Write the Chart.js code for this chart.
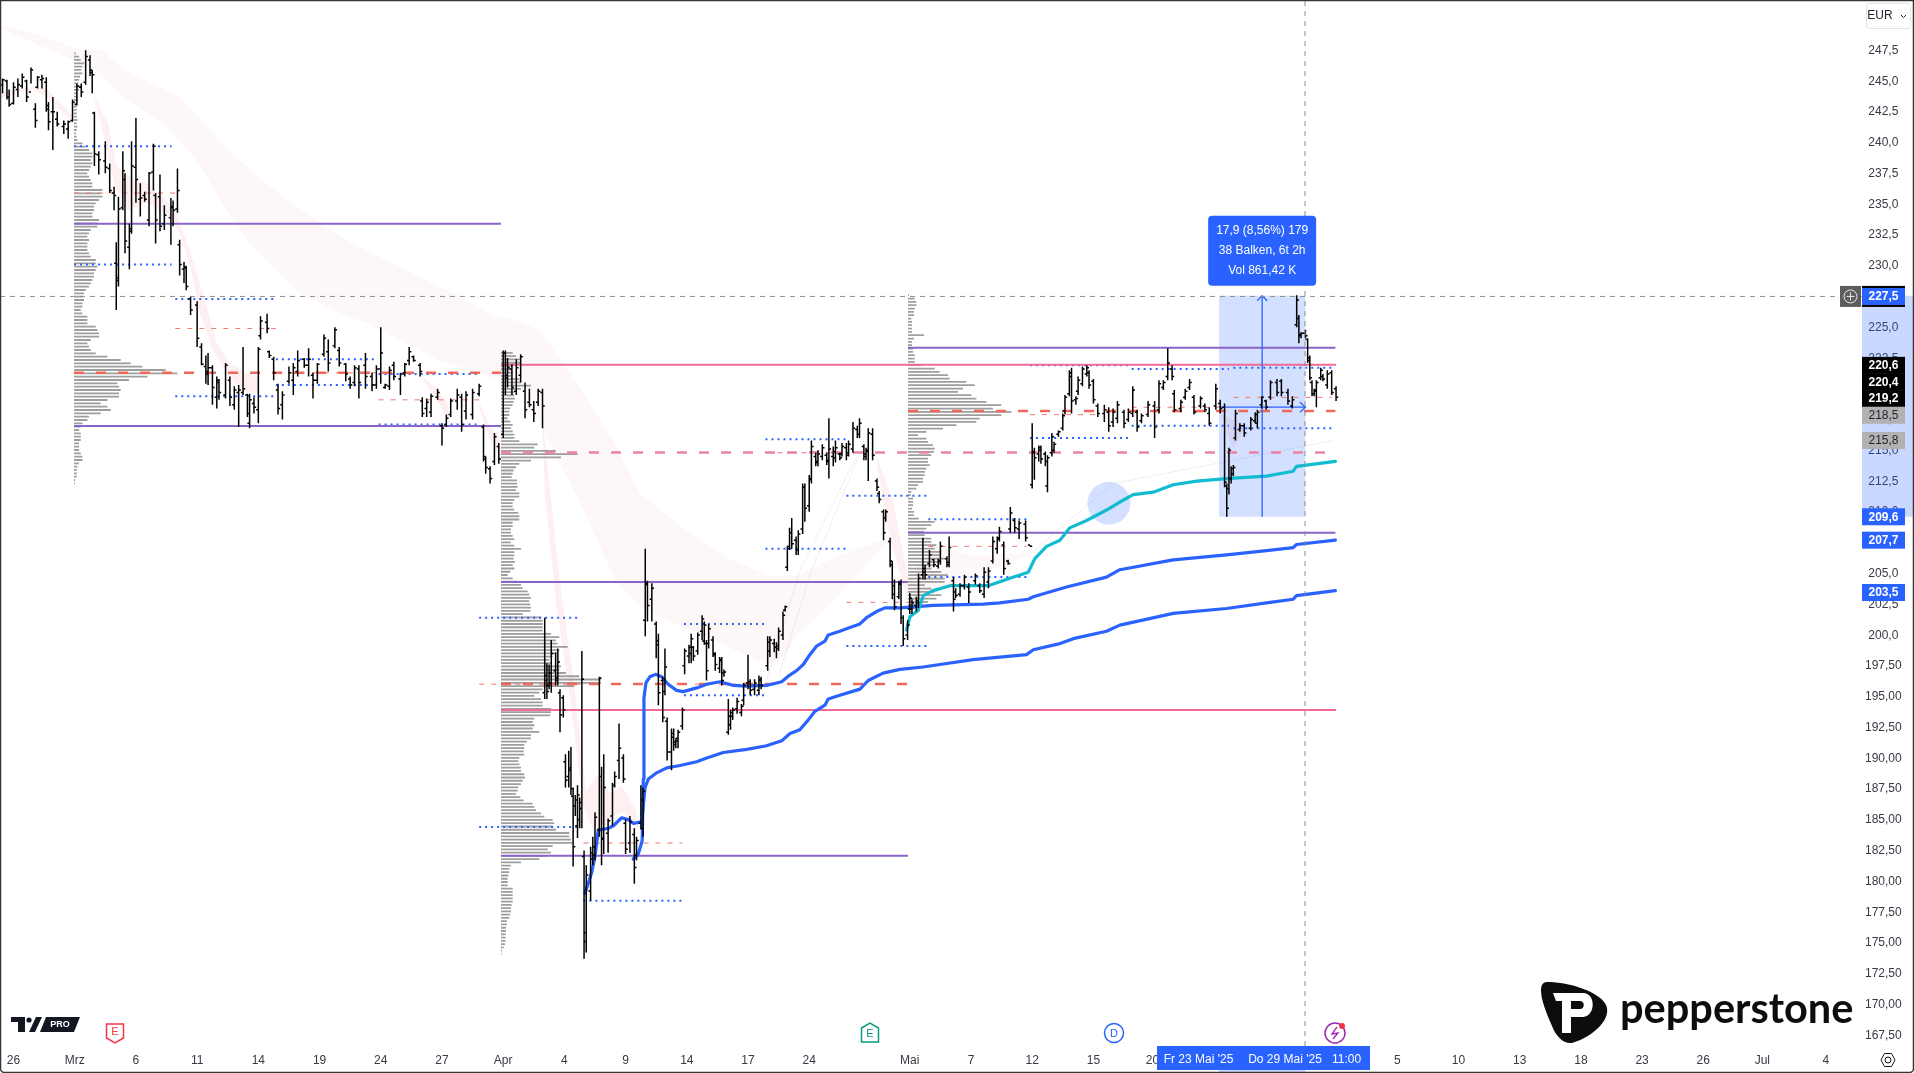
<!DOCTYPE html>
<html>
<head>
<meta charset="utf-8">
<title>Chart</title>
<script src="https://cdn.jsdelivr.net/npm/chart.js@4/dist/chart.umd.min.js"></script>
<style>
html,body{margin:0;padding:0;background:#fff;overflow:hidden}
canvas{display:block}
</style>
</head>
<body>
<canvas id="mycanvas" width="1914" height="1073"></canvas>
<script>
// axis
var tickBars = [0,28,56,84,112,140,168,196,224,252,280,308,336,364,410,438,466,494,521,633,661,689,717,745,773,800,829];
var tickNames = ['26','Mrz','6','11','14','19','24','27','Apr','4','9','14','17','24','Mai','7','12','15','20','5','10','13','18','23','26','Jul','4'];
var yTicks = [247.5,245,242.5,240,237.5,235,232.5,230,227.5,225,222.5,220,217.5,215,212.5,210,207.5,205,202.5,200,197.5,195,192.5,190,187.5,185,182.5,180,177.5,175,172.5,170,167.5];

// price bars
var barNo = [
-5,-3,-2,0,2,4,6,8,10,11,
13,15,16,18,20,23,25,27,29,31,
33,35,36,37,39,42,44,46,47,48,
50,51,53,54,56,58,60,62,64,65,
67,69,72,73,75,76,78,79,81,84,
86,88,89,91,93,94,97,99,101,103,
105,107,108,110,112,113,116,117,119,121,
123,126,128,130,133,135,137,139,142,144,
147,149,152,154,156,158,161,164,166,168,
170,172,174,177,179,181,183,186,187,189,
191,194,196,198,200,203,205,207,210,213,
215,216,218,220,222,224,225,226,228,230,
232,234,236,238,240,242,243,244,245,246,
248,249,250,251.5,252.5,254,255,256,257,258,
259,260,261,262,264,265,266,268,269,270,
272,274,275,277,279,280,282,284,285,287,
288,289,290,292,294,295,297,298,299,301,
302,303,304,306,307,309,310,311,313,315,
316,317,318,320,321,323,324,325,327,328,
329,331,333,334,336,337,339,341,342,345,
346,348,349,350,352,353,354,355,356,358,
359,361,362,364,365,367,368,370,372,373,
375,376,378,379,381,382,384,386,387,389,
390,391,393,395,396,398,399,401,402,403,
405,406,407,409,410,411,413,414,416,417,
419,421,423,424,427,428,430,431,433,435,
437,440,442,444,446,448,450,451,453,455,
456,458,460,463,465,466,467,469,470,472,
473,475,476,478,480,481,483,484,486,487,
489,491,492,494,496,499,501,503,505,508,
510,512,514,516,519,522,524,526,528,530,
531,534,536,538,540,543,545,547,550,552,
554,555,556,557,558,559,561,563,566,568,
569,571,573,575,578,580,583,585,587,588,
589,591,592,593,594,595,596,598,599,601,
603,605];
var highs = [
245.1,245.0,244.2,244.8,245.1,245.5,245.0,246.0,243.1,245.3,
245.4,245.2,243.2,243.6,242.4,241.7,241.7,243.4,244.7,244.7,
247.4,247.0,245.8,242.4,239.2,240.0,238.2,236.3,231.8,235.5,
239.2,237.4,233.3,240.0,241.9,236.6,235.9,237.5,239.8,235.8,
237.3,234.8,235.4,235.2,237.8,232.0,230.2,229.9,227.4,227.0,
223.6,222.6,222.8,221.8,220.9,220.7,222.0,220.9,220.1,220.2,
223.3,219.5,219.5,219.2,223.3,225.8,226.0,223.0,222.5,220.3,
219.7,221.7,222.0,223.0,222.4,223.2,221.2,222.0,224.3,223.9,
224.9,223.3,222.0,220.9,221.8,221.8,222.8,221.2,221.8,224.9,
220.3,221.7,222.1,221.2,222.0,223.3,222.6,222.0,219.2,219.1,
219.5,219.9,217.1,217.8,219.1,219.9,219.5,219.7,219.9,220.3,
217.0,214.4,213.6,216.3,215.5,223.0,223.0,222.4,221.9,222.3,
222.7,220.4,219.9,218.9,219.9,219.9,201.3,197.6,197.5,199.5,
198.5,198.8,195.5,195.0,190.2,190.5,190.8,187.5,186.9,187.7,
186.7,198.6,182.4,181.2,182.7,183.5,185.5,196.5,189.2,190.2,
185.0,187.9,188.8,192.7,190.2,184.9,185.2,184.2,183.5,187.7,
187.5,206.9,204.3,204.1,201.0,200.0,196.5,198.8,193.2,192.3,
192.3,191.5,192.2,194.0,198.8,199.1,200.0,199.0,200.1,201.5,
201.0,199.5,200.8,199.8,198.5,198.1,198.1,197.1,194.7,193.8,
194.0,194.8,194.3,196.0,198.3,196.3,196.3,196.6,196.5,199.8,
199.8,199.6,199.3,200.5,201.8,202.3,207.1,208.6,209.4,207.9,
208.4,212.2,212.2,212.9,215.7,214.7,214.9,215.4,214.7,217.5,
215.2,215.7,214.7,215.5,215.5,215.7,217.2,216.9,217.5,215.4,
215.1,216.7,216.7,212.6,211.6,210.1,210.1,207.8,205.9,204.4,
204.3,204.4,201.5,201.1,203.3,202.8,203.0,204.9,207.8,205.6,
206.8,206.1,206.1,207.5,206.3,207.9,204.6,203.7,204.1,204.8,
204.1,204.9,204.1,205.4,205.4,207.9,207.9,208.7,207.5,206.0,
210.3,209.4,209.2,209.2,207.2,217.1,215.1,215.3,215.3,214.8,
214.5,216.3,215.6,216.5,217.9,219.4,221.4,221.6,219.3,220.9,
221.7,221.8,221.4,220.7,218.7,218.6,218.4,218.3,218.9,218.2,
218.3,220.1,218.2,217.9,218.9,218.9,220.6,220.6,223.2,221.8,
219.8,219.0,219.9,220.7,219.4,219.3,218.7,218.4,220.3,219.0,
218.7,212.2,215.1,213.6,213.7,218.2,217.1,217.1,217.6,218.0,
218.2,219.3,219.0,220.6,220.7,220.7,219.9,219.3,227.5,225.9,
224.5,224.7,224.0,222.6,220.6,219.9,220.6,221.6,221.1,221.4,
221.4,220.1];
var lows = [
243.9,243.4,242.8,243.0,243.6,244.3,243.2,244.7,241.1,244.3,
244.3,242.4,240.9,239.3,241.2,240.6,240.2,241.6,242.9,243.6,
244.6,245.3,243.9,238.0,237.3,237.4,235.8,234.4,226.3,228.2,
234.4,230.9,229.6,232.5,235.0,233.9,235.1,233.1,236.0,231.7,
232.7,232.8,231.6,233.1,234.2,229.1,228.5,227.9,225.9,223.3,
221.8,220.3,220.2,218.6,218.3,219.0,219.1,218.5,218.2,216.8,
219.4,217.6,216.7,217.9,217.1,223.9,224.4,222.4,220.6,217.8,
217.4,220.3,219.4,220.9,221.6,220.9,219.1,220.3,222.5,221.3,
223.2,221.7,220.5,219.9,220.1,219.1,219.9,219.7,219.9,220.3,
219.9,219.8,220.6,219.4,220.9,221.8,222.1,220.9,217.6,217.6,
217.6,219.0,215.3,216.8,217.6,218.2,216.4,217.4,217.4,219.3,
214.0,213.0,212.2,213.7,213.8,215.9,219.4,220.0,219.4,219.4,
220.4,217.5,218.4,217.2,218.5,216.7,194.7,194.7,195.5,195.2,
195.8,195.8,192.0,193.2,187.5,187.5,186.9,181.1,185.2,183.4,
184.2,184.2,173.6,174.1,178.3,181.2,181.6,183.5,181.2,182.1,
182.2,184.4,187.5,188.2,187.9,182.1,182.2,179.7,181.6,184.1,
183.5,199.8,201.0,201.0,198.0,194.2,192.8,195.0,189.7,188.9,
190.5,190.7,190.7,192.2,196.7,197.6,197.6,197.8,198.3,199.5,
199.1,196.2,198.8,198.1,197.0,196.8,195.8,196.5,191.8,192.2,
193.0,193.5,193.3,194.2,195.5,195.0,195.0,195.0,195.5,197.0,
198.1,198.5,198.0,198.6,199.5,201.8,205.1,206.8,206.9,206.4,
206.4,208.1,209.1,209.9,212.2,213.6,213.6,214.1,213.7,212.6,
213.6,213.9,214.1,214.4,214.1,214.4,214.7,215.9,215.9,214.1,
214.1,212.4,214.1,211.6,210.6,207.6,209.1,205.4,202.8,201.9,
202.8,200.8,199.0,199.5,201.6,201.6,201.8,202.1,204.4,204.4,
205.4,205.4,205.3,205.6,205.4,205.4,201.8,202.9,203.0,203.6,
202.5,204.0,203.3,202.9,203.7,205.7,206.5,207.5,204.8,205.6,
208.2,208.2,207.7,207.5,207.1,211.8,212.5,214.0,213.8,213.6,
211.5,214.4,214.7,216.0,216.5,217.8,219.3,217.9,218.6,219.4,
220.1,220.9,219.9,218.7,217.6,217.2,216.4,216.8,217.1,216.7,
217.2,217.6,216.4,217.1,217.6,215.9,217.9,219.8,220.6,220.6,
218.0,218.0,219.0,219.8,217.8,218.3,218.0,216.9,218.2,217.9,
211.9,209.5,211.3,212.2,212.8,215.7,216.4,216.0,216.5,217.1,
216.7,218.3,218.2,219.0,219.3,219.3,218.6,218.3,224.9,223.6,
224.0,224.0,222.0,220.6,219.3,219.3,218.4,220.6,220.5,219.9,
219.4,218.9];
var opens = [
244.6,244.9,243.6,243.1,244.2,244.5,244.9,244.0,242.6,244.4,
245.0,244.8,242.6,242.4,241.8,241.2,241.0,241.7,243.0,244.4,
244.8,246.6,245.6,242.3,238.9,238.4,237.8,235.8,230.1,228.9,
234.6,236.9,231.4,232.7,237.9,235.3,235.6,233.6,237.5,235.6,
235.5,233.3,233.8,234.7,234.5,231.6,229.6,229.7,227.2,226.7,
223.3,221.7,221.1,221.6,219.2,220.4,219.4,220.6,218.6,219.6,
219.6,219.4,217.1,218.7,218.2,224.2,225.3,222.9,222.3,219.8,
218.6,220.5,220.6,221.3,222.3,221.8,221.0,220.6,222.7,222.9,
223.4,223.0,221.9,220.7,220.4,221.5,221.8,220.9,220.2,221.5,
220.0,220.1,221.8,220.7,221.2,222.2,222.5,221.8,218.9,218.3,
218.0,219.2,216.9,217.0,217.8,218.9,219.2,218.1,217.8,219.5,
216.8,214.2,213.4,214.0,215.2,216.2,222.8,221.0,221.5,219.7,
221.0,219.7,218.8,218.2,218.8,219.6,195.2,196.2,195.8,196.0,
197.0,196.2,195.2,194.8,189.6,188.4,189.1,186.8,186.0,184.4,
184.9,185.8,181.9,175.0,179.1,181.7,182.0,184.1,188.4,183.3,
183.8,185.2,187.7,189.7,189.9,184.6,183.0,183.7,182.0,184.6,
184.2,201.1,204.0,202.8,200.8,199.4,196.2,195.3,192.9,190.4,
191.6,191.0,191.5,192.5,197.4,198.2,198.4,198.9,198.6,200.2,
199.4,199.2,199.2,199.5,198.3,197.2,197.8,196.8,192.0,192.6,
193.3,193.9,193.6,194.6,196.0,196.1,195.5,195.4,196.2,197.4,
198.6,199.2,198.9,199.0,199.9,201.9,205.4,207.1,208.2,207.6,
206.8,208.5,211.9,210.4,212.6,214.4,214.0,214.4,214.5,214.1,
214.4,214.3,214.6,214.6,215.1,214.7,215.0,216.6,216.2,215.2,
214.4,214.8,216.2,212.4,211.4,209.9,209.4,207.5,205.6,203.9,
203.0,204.1,201.3,199.9,202.0,202.0,202.3,202.5,204.8,205.3,
205.7,206.0,205.5,205.9,206.1,205.8,204.3,203.4,203.2,203.9,
203.8,204.3,203.9,203.2,204.2,205.9,206.9,207.8,207.2,205.9,
208.5,209.2,208.5,208.9,207.2,212.1,214.8,214.6,214.9,214.6,
212.0,214.7,214.9,216.2,216.7,218.1,219.5,220.9,219.0,219.7,
220.3,221.1,221.2,220.5,218.5,217.9,218.0,217.2,217.5,218.0,
217.4,217.9,218.0,217.3,217.8,218.5,218.2,220.0,220.9,221.5,
219.5,218.3,219.2,220.0,219.2,218.5,218.5,217.9,218.5,218.7,
218.4,212.0,211.8,212.6,213.0,215.9,216.6,216.9,216.7,217.3,
217.1,218.6,218.9,219.2,220.4,220.5,219.6,218.5,225.1,225.6,
224.2,224.4,223.9,222.4,220.4,219.5,219.7,220.8,220.9,220.2,
221.2,219.9];
var closes = [
245.0,243.6,243.0,244.4,244.6,245.2,243.6,245.8,241.7,245.2,
245.1,242.9,241.6,242.4,241.4,241.4,241.6,243.2,244.5,244.0,
246.9,245.8,245.4,239.0,238.5,237.9,236.0,235.6,228.7,234.5,
237.6,231.9,232.9,238.0,236.9,235.4,235.3,237.4,239.6,233.6,
233.1,234.0,234.6,234.4,236.0,230.0,229.8,228.2,226.3,224.0,
221.9,221.3,221.6,220.0,220.6,219.6,221.8,219.2,219.8,219.8,
219.9,217.9,219.0,218.4,223.1,225.4,224.8,222.6,221.2,218.3,
219.4,221.2,221.6,222.2,221.8,222.3,220.6,221.9,224.0,222.0,
224.7,222.0,221.1,220.2,221.6,220.4,220.9,220.2,221.5,222.8,
220.2,221.4,220.9,221.1,221.9,222.9,222.2,221.3,217.9,218.8,
219.3,219.6,216.7,217.5,218.9,219.4,217.0,219.4,219.6,220.1,
214.4,213.5,212.6,216.0,214.2,222.8,220.8,221.6,220.0,221.6,
222.5,218.2,218.6,217.9,219.7,218.5,196.6,195.3,196.8,198.4,
196.4,197.7,193.4,193.8,188.1,188.9,187.4,182.7,186.5,186.9,
186.3,196.3,175.7,180.4,182.2,182.7,185.1,196.4,183.4,187.5,
184.8,187.7,188.4,190.7,188.2,182.5,184.7,181.0,183.2,186.5,
187.2,204.1,202.3,203.7,199.1,195.2,193.2,197.3,190.4,191.9,
191.2,191.3,192.0,193.8,198.6,198.9,199.6,198.2,199.9,201.2,
200.7,197.0,200.4,198.4,197.5,197.9,196.2,196.9,193.3,193.6,
193.8,194.5,194.1,195.8,196.1,195.4,196.0,196.3,195.8,199.3,
199.5,198.9,198.8,200.2,201.5,202.2,206.9,208.2,207.3,206.8,
208.1,211.9,210.2,212.5,215.2,213.9,214.6,215.1,214.0,215.0,
214.8,215.1,214.3,215.2,214.5,215.4,216.7,216.2,217.1,214.6,
214.9,216.3,214.5,211.9,210.9,208.2,209.9,205.9,203.2,202.2,
204.0,201.3,199.6,200.7,202.9,202.5,202.7,204.5,205.0,204.8,
206.4,205.6,205.9,207.1,205.6,207.0,202.8,203.1,203.9,204.6,
203.4,204.7,203.5,205.0,205.1,207.5,207.7,208.3,205.3,205.7,
209.8,208.6,209.0,207.8,207.1,214.7,214.3,215.1,214.2,214.0,
214.3,216.0,215.4,216.4,217.7,219.2,221.2,218.9,219.1,220.6,
221.5,221.6,220.2,219.0,217.9,218.2,216.9,218.0,218.6,217.1,
218.0,219.8,216.8,217.7,218.6,216.8,220.3,220.4,222.0,220.9,
218.2,218.8,219.7,220.4,218.0,219.1,218.2,217.1,219.9,218.3,
212.3,210.2,214.9,213.4,213.5,217.9,216.9,216.3,217.4,217.8,
218.0,219.2,218.4,220.4,219.6,219.6,218.9,219.0,227.1,224.3,
224.4,224.2,222.2,220.8,219.5,219.8,220.4,221.4,220.7,221.1,
219.6,219.2];

// volume profiles, rows from top price downwards
var marchVol = [5,15,20,30,25,22,25,18,15,12,22,15,10,10,12,8,8,8,8,8,10,8,10,8,5,8,10,25,35,45,55,55,50,55,50,45,40,45,50,55,55,85,80,85,75,65,60,60,55,55,75,70,70,50,45,40,45,40,40,40,45,50,65,65,70,65,60,60,55,50,45,35,30,25,30,25,25,20,25,40,40,40,65,70,75,75,50,40,45,50,65,100,140,170,205,275,310,220,165,130,135,140,135,135,100,80,100,110,80,45,40,25,20,15,20,20,20,15,15,15,20,25,25,15,10,8,8,8,3,3];
var aprilVol = [35,45,60,60,35,30,35,30,55,60,90,60,40,40,42,38,35,28,25,25,20,28,35,30,35,40,40,55,110,100,165,230,180,90,55,45,38,35,32,48,48,50,45,55,55,40,35,35,40,52,55,55,35,35,30,30,35,40,30,40,60,40,40,38,42,35,40,28,20,35,50,60,65,80,85,90,85,88,90,88,65,120,125,125,125,125,150,175,165,170,200,175,165,155,145,150,180,175,195,235,300,300,220,125,115,100,120,125,125,150,150,148,100,95,100,95,115,90,90,78,70,70,68,70,55,52,55,60,60,70,72,65,60,52,50,45,58,68,95,100,105,120,130,155,160,155,165,205,205,210,215,155,140,150,135,115,60,30,25,25,22,20,20,20,35,35,35,35,35,32,30,30,27,25,18,18,15,15,14,14,14,12,8,3,2];
var mayVol = [3,20,25,25,20,18,18,10,12,12,12,12,48,18,12,12,15,15,20,20,20,45,80,95,120,125,175,200,165,150,190,205,235,280,255,310,280,215,205,145,105,55,30,55,60,75,80,78,70,60,60,65,55,50,50,45,45,30,25,10,8,15,15,15,12,18,18,32,80,70,55,48,50,70,70,85,80,100,95,110,100,75,70,100,120,110,110,50,70,80,100,85,60,40,20];

// volume profile sessions
var sessionBars = [27.7,223,409.2,604.7];
var valueHigh = [233.3,204.2,223.23];
var valueLow = [216.87,181.96,208.2];
var sessionPoc = [221.2,195.92,218.1];

// long levels
var pinkLevels = [221.85,193.8];
var pinkFrom = 223;
var pinkTo = 605;
var nakedPoc = 214.72;

// short dotted and dashed weekly levels
var dotPrices = [239.6,230.0,227.2,219.3,222.3,220.2,221.1,217.0,201.3,184.3,193.8,178.3,200.8,195.0,215.8,206.9,211.2,199.0,209.3,204.6,215.9,221.8,221.5,216.9,221.6,216.7];
var dotFrom = [27.7,27.7,74,74,120,120,167,167,213,213,260.7,260.7,306.7,306.7,344,344,381,381,418.5,418.5,465,465,511.5,511.5,558,558];
var dotTo = [72.3,72.3,118.8,118.8,165,165,212,212,259,259,306,306,344,344,381,381,417.7,417.7,463.4,463.4,510,510,556,556,603,603];
var thinPrices = [235.8,224.8,221.2,219.0,195.9,183.0,195.9,214.7,202.55,207.1,217.8,218.4,219.2];
var thinFrom = [27.7,74,120,167,213,260.7,311.7,344,381,418.5,465,511.5,558];
var thinTo = [73.9,120,166,213,260,306,344,381,417.7,463.4,497,556,603];

// anchored lines
var tealX = [408.5,410.1,413.9,416.2,420.7,428.4,445.9,455.8,464.2,467.2,472.6,478.7,483.2,490.9,500,506.1,512.2,521.4,530.5,541.2,554.9,573.2,585.4,586.9,604.7];
var tealY = [200.3,201.4,201.9,203.1,203.5,203.9,203.9,204.5,205.0,206.1,207.1,207.6,208.6,209.2,210.05,210.7,211.3,211.5,212.1,212.4,212.6,212.8,213.2,213.6,214.0];
var blueAX = [283.5,285.8,287.6,288.1,288.4,289.3,291.1,293.7,296.5,299.5,303.3,306.4,312.5,317.1,323.2,329.3,335.4,344.5,351.4,354.4,358.2,361.3,364.3,367.4,371.2,372.7,378,382.6,387.2,390.2,394.8,398.6,405.5,420.7,443.6,451.2,464.2,466.5,481.7,500,506.1,530.5,554.9,573.2,585.4,586.9,604.7];
var blueAY = [181.7,182.1,183.2,188.2,194.8,196.0,196.5,196.7,196.5,195.9,195.4,195.3,195.6,195.9,196.1,195.8,195.75,195.8,196.1,196.55,197.0,197.5,198.3,199.0,199.4,199.9,200.2,200.5,200.8,201.3,201.8,202.1,202.1,202.3,202.4,202.5,202.8,203.0,203.8,204.6,205.2,206.0,206.4,206.75,207.0,207.25,207.6];
var blueBX = [287.8,288.9,290.4,294.2,298.8,304.9,312.5,317.1,324.7,335.4,344.5,351.4,355.2,359.7,363.6,366.6,371.2,372.7,378,387.2,391,397.8,405.5,416.1,423.8,439,463.4,466.5,478.7,484.8,500,506.1,530.5,554.9,573.2,585.4,586.9,604.7];
var blueBY = [185.5,187.5,188.2,188.7,189.1,189.3,189.6,189.9,190.35,190.6,190.9,191.3,191.9,192.2,193.0,193.7,194.2,194.7,195.0,195.5,196.2,196.8,197.1,197.3,197.5,197.9,198.3,198.7,199.2,199.6,200.2,200.7,201.65,202.05,202.5,202.8,203.1,203.5];
var blueCX = [261.4,264.5,266,267.5,272.1,274.4,278.2,281.2,283.5,286.6];
var blueCY = [178.9,180.6,181.9,184.05,184.2,184.4,185.05,184.9,184.6,184.7];

// pale ribbon, upper and lower edge
var slowUpX = [-6,9,29,40,52,76,88,100.5,119,139,155,177,198,219.5,231.6,240.8,259,274.4,286.6,304.9,327.7,347.5,359.7,378,397.8,400.9];
var slowUpY = [249.45,248.8,247.55,247.4,245.66,243.65,241.3,238.9,236.05,233.5,231.7,229.8,227.9,225.9,225.35,224.67,220,215.7,211.4,208.75,206.1,204.6,204.8,206.4,207.6,207.6];
var slowLoX = [-6,15,27.3,38,52,70,85,94.5,108,119,131,146,161.5,177,195,218,231.6,259,276,289.6,320,344.5,350.6,359.7,372,384.1,397.8,400.9];
var slowLoY = [249.2,247.55,246.6,245.66,243.4,241.2,238.2,235.2,231.7,229.8,227.65,226.3,225.2,223.85,222.2,220.9,220.3,210.7,204.1,201.8,199.5,197.5,197.8,200.1,202.1,204.4,207.1,207.6];
var slowTail = [[409.3,420,440,464],[204.4,207.2,206.3,206.6],[409.3,420,440,464],[202.45,203.2,204.6,206.4]];

// fast ribbon pieces, [x upper, y upper, x lower, y lower]
var fastA = [[-6,9,15,27],[244.0,244.4,244.3,242.1],[-6,9,15,27],[243.5,244.2,243.6,241.6]];
var fastB = [[37,43,47,55,61,68.5,74.6,81,87,93,99,106.6,112],[243.6,241.5,238.0,236.9,236.6,235.5,234.15,230.9,227.4,223.6,222.0,221.15,220.9],[37,41,46.4,52.5,61,71.6,76,81,85.3,91.4,97.5,103.6,112],[243.4,240.65,236.3,234.4,235.0,233.9,232.5,229.8,226.0,223.0,221.15,219.8,219.5]];
var fastC = [[186,193.5,199],[221.0,219.9,218.6],[186,192,199],[220.9,219.5,217.4]];
var fastD = [[213,218,222.5],[218.8,216.8,216.0],[213,218,222.5],[218.4,215.7,214.4]];
var fastE = [[241.6,243.9,250,256,262,266.8,272.9,278.2,285],[218.7,214.1,204.1,196.5,187.2,188.5,187.0,187.7,185.5],[241.6,243.1,248.5,254.6,260.7,265.2,274.4,279,285],[218.4,211.4,202.1,194.8,185.9,184.05,185.2,185.5,184.2]];
var fastF = [[394.8,402.4,409.3],[214.4,210.7,204.4],[394.8,400,409.3],[214.1,208.4,202.45]];
var fastG = [[552,564],[217.9,216.9],[552,558,564],[217.9,215.05,216.9]];
var ghostA = [[344.5,359.7,385.6],[196.2,205.1,214.4]];
var ghostB = [[350,365,388],[196.6,205.1,215.0]];
var ghostC = [[465,503,604],[206.5,212.2,215.7]];

// measure tool, crosshair and the highlight on the teal line
var measureBars = [551.4,591];
var measurePrices = [209.5,227.45];
var measureMidBar = 571.2;
var measureMidPrice = 218.4;
var crossBar = 590.8;
var crossPrice = 227.4;
var noteBar = 501.1;
var notePrice = 210.6;
var measureText = ['17,9 (8,56%) 179','38 Balken, 6t 2h','Vol 861,42 K'];

// price tags on the axis
var tagText = ['227,5','220,6','220,4','219,2','218,5','215,8','209,6','207,7','203,5'];
var tagAt = [227.4,221.8,220.45,219.1,217.75,215.7,209.5,207.6,203.35];
var tagBg = ['#2962ff','#000000','#000000','#000000','#b2b2b2','#b2b2b2','#2962ff','#2962ff','#2962ff'];
var tagFg = ['#ffffff','#ffffff','#ffffff','#ffffff','#1e222d','#1e222d','#ffffff','#ffffff','#ffffff'];

var volPerBar = 6.56;
var FONT = '"Liberation Sans", Arial, sans-serif';
var datasets = [];

function pts(xs, ys) {
	var out = [];
	for (var i = 0; i < xs.length; i++) out.push({x: xs[i], y: ys[i]});
	return out;
}

function addLine(data, color, width, dash, extra) {
	var ds = {
		type: 'line', data: data, borderColor: color, borderWidth: width,
		borderDash: dash || [], pointRadius: 0, tension: 0, fill: false,
		borderCapStyle: 'butt', borderJoinStyle: 'miter', order: -datasets.length
	};
	if (extra) for (var k in extra) ds[k] = extra[k];
	datasets.push(ds);
}

function addRibbon(r, color) {
	addLine(pts(r[0], r[1]), 'rgba(0,0,0,0)', 0, null, {fill: '+1', backgroundColor: color});
	addLine(pts(r[2], r[3]), 'rgba(0,0,0,0)', 0);
}

function levels(prices, from, to) {
	var out = [];
	for (var i = 0; i < prices.length; i++) {
		var a = from[i] === undefined ? from : from[i];
		var b = to[i] === undefined ? to : to[i];
		out.push({x: a, y: prices[i]}, {x: b, y: prices[i]}, {x: b, y: null});
	}
	return out;
}

function profileRows(startBar, topPrice, step, vols) {
	var out = [];
	for (var i = 0; i < vols.length; i++) {
		var y = topPrice - i * step;
		var end = startBar + vols[i] / volPerBar;
		out.push({x: startBar, y: y}, {x: end, y: y}, {x: end, y: null});
	}
	return out;
}

function barSegments() {
	var out = [];
	for (var i = 0; i < barNo.length; i++) {
		var n = barNo[i];
		out.push({x: n, y: highs[i]}, {x: n, y: lows[i]}, {x: n, y: null});
		out.push({x: n - 1, y: opens[i]}, {x: n, y: opens[i]}, {x: n, y: null});
		out.push({x: n, y: closes[i]}, {x: n + 1, y: closes[i]}, {x: n + 1, y: null});
	}
	return out;
}

// bottom layer first
addRibbon([slowUpX, slowUpY, slowLoX, slowLoY], 'rgba(242,54,69,0.04)');
addRibbon(slowTail, 'rgba(242,54,69,0.04)');
[fastA, fastB, fastC, fastD, fastE, fastF, fastG].forEach(function(r) {
	addRibbon(r, 'rgba(242,54,69,0.08)');
});
[ghostA, ghostB, ghostC].forEach(function(g) {
	addLine(pts(g[0], g[1]), 'rgba(120,123,134,0.12)', 1);
});
addLine(profileRows(sessionBars[0], 247.15, 0.2708, marchVol), 'rgba(120,120,120,0.72)', 1.8);
addLine(profileRows(sessionBars[1], 222.81, 0.2653, aprilVol), 'rgba(120,120,120,0.72)', 1.8);
addLine(profileRows(sessionBars[2], 227.5, 0.2708, mayVol), 'rgba(120,120,120,0.72)', 1.8);
addLine(pts([measureBars[0], measureBars[1]], [measurePrices[1], measurePrices[1]]), 'rgba(0,0,0,0)', 0, null, {fill: {value: measurePrices[0]}, backgroundColor: 'rgba(41,98,255,0.2)'});
addLine(levels(thinPrices, thinFrom, thinTo), '#f0786e', 1, [5, 7]);
addLine(levels(dotPrices, dotFrom, dotTo), '#2962ff', 2, [2, 4]);
addLine(levels(valueHigh.concat(valueLow), sessionBars.slice(0, 3).concat(sessionBars.slice(0, 3)), sessionBars.slice(1).concat(sessionBars.slice(1))), '#8a64c8', 2);
addLine(levels(pinkLevels, pinkFrom, pinkTo), '#ef6b96', 2);
addLine(levels([nakedPoc], 223, 600), '#ec82a5', 2.5, [10, 12]);
addLine(levels(sessionPoc, sessionBars.slice(0, 3), sessionBars.slice(1)), '#f0675b', 2.5, [10, 12]);
addLine(pts([noteBar], [notePrice]), 'rgba(0,0,0,0)', 0, null, {pointRadius: 21.5, pointBorderWidth: 0, pointBackgroundColor: 'rgba(41,98,255,0.2)'});
addLine(pts(blueBX, blueBY), '#2962ff', 3.2, null, {borderJoinStyle: 'round', borderCapStyle: 'round'});
addLine(pts(blueCX, blueCY), '#2962ff', 3.2, null, {borderJoinStyle: 'round', borderCapStyle: 'round'});
addLine(pts(blueAX, blueAY), '#2962ff', 3.2, null, {borderJoinStyle: 'round', borderCapStyle: 'round'});
addLine(pts(tealX, tealY), '#12bcd0', 3.2, null, {borderJoinStyle: 'round', borderCapStyle: 'round'});
addLine(pts([measureMidBar, measureMidBar], [measurePrices[0], measurePrices[1]]), '#2962ff', 1.3);
addLine(pts([measureBars[0], measureBars[1]], [measureMidPrice, measureMidPrice]), '#2962ff', 1.3);
addLine(pts([measureMidBar - 2.3, measureMidBar, measureMidBar + 2.3], [measurePrices[1] - 0.4, measurePrices[1], measurePrices[1] - 0.4]), '#2962ff', 1.3);
addLine(pts([measureBars[1] - 2.5, measureBars[1], measureBars[1] - 2.5], [measureMidPrice + 0.4, measureMidPrice, measureMidPrice - 0.4]), '#2962ff', 1.3);
addLine(barSegments(), '#000000', 1.5);
addLine(pts([crossBar, crossBar], [166.5, 251.5]), '#8c8c8c', 1, [5, 5]);
addLine(pts([-6.18, 845.6], [crossPrice, crossPrice]), '#8c8c8c', 1, [5, 5]);

function fmtPrice(v) {
	return (v >= 200 ? v.toFixed(1) : v.toFixed(2)).replace('.', ',');
}

function drawTags(ctx, y) {
	var top = y.getPixelForValue(measurePrices[1]);
	var bot = y.getPixelForValue(measurePrices[0]);
	ctx.fillStyle = 'rgba(41,98,255,0.25)';
	ctx.fillRect(1862, top, 51, bot - top);
	ctx.textAlign = 'center';
	ctx.textBaseline = 'middle';
	for (var i = 0; i < tagText.length; i++) {
		var py = y.getPixelForValue(tagAt[i]);
		if (i === 0) {
			ctx.fillStyle = '#000';
			ctx.fillRect(1862, py - 10.5, 43, 21);
		}
		ctx.fillStyle = tagBg[i];
		ctx.fillRect(1862, py - 8.5, 43, 17);
		ctx.fillStyle = tagFg[i];
		ctx.font = (i < 4 || i > 5 ? 'bold ' : '') + '12px ' + FONT;
		ctx.fillText(tagText[i], 1883.5, py + 0.5);
	}
	// crosshair button
	var cy = y.getPixelForValue(crossPrice);
	ctx.fillStyle = '#5d5d5d';
	ctx.fillRect(1840, cy - 10.5, 21, 21);
	ctx.strokeStyle = '#e8e8e8';
	ctx.lineWidth = 1;
	ctx.beginPath();
	ctx.arc(1850.5, cy, 6.5, 0, Math.PI * 2);
	ctx.moveTo(1846.5, cy);
	ctx.lineTo(1854.5, cy);
	ctx.moveTo(1850.5, cy - 4);
	ctx.lineTo(1850.5, cy + 4);
	ctx.stroke();
}

function drawMeasureBox(ctx, x, y) {
	var cx = x.getPixelForValue(measureMidBar);
	var top = y.getPixelForValue(measurePrices[1]);
	ctx.fillStyle = '#2962ff';
	ctx.beginPath();
	ctx.roundRect(cx - 54, top - 80, 108, 70, 4);
	ctx.fill();
	ctx.fillStyle = '#fff';
	ctx.font = '12px ' + FONT;
	ctx.textAlign = 'center';
	ctx.textBaseline = 'middle';
	for (var i = 0; i < measureText.length; i++) {
		ctx.fillText(measureText[i], cx, top - 65.5 + i * 20);
	}
}

function drawTimeLabel(ctx, x) {
	var a = x.getPixelForValue(measureBars[0]);
	var b = x.getPixelForValue(measureBars[1]);
	ctx.fillStyle = 'rgba(41,98,255,0.25)';
	ctx.fillRect(a, 1046, b - a, 26);
	ctx.fillStyle = '#2962ff';
	ctx.fillRect(1157, 1046, 213, 24);
	ctx.fillStyle = '#fff';
	ctx.font = '12px ' + FONT;
	ctx.textAlign = 'center';
	ctx.textBaseline = 'middle';
	ctx.fillText("Fr 23 Mai '25", 1198.5, 1060);
	ctx.fillText("Do 29 Mai '25", 1285, 1060);
	ctx.fillText('11:00', 1346.5, 1060);
}

function drawEur(ctx) {
	ctx.strokeStyle = '#e0e3eb';
	ctx.lineWidth = 1;
	ctx.beginPath();
	ctx.roundRect(1866.5, 3.5, 44, 25, 3);
	ctx.stroke();
	ctx.fillStyle = '#1e222d';
	ctx.font = '12px ' + FONT;
	ctx.textAlign = 'center';
	ctx.textBaseline = 'middle';
	ctx.fillText('EUR', 1880, 16);
	ctx.strokeStyle = '#1e222d';
	ctx.beginPath();
	ctx.moveTo(1901, 15);
	ctx.lineTo(1903.5, 17.5);
	ctx.lineTo(1906, 15);
	ctx.stroke();
}

function drawTvLogo(ctx) {
	ctx.fillStyle = '#131722';
	ctx.beginPath();
	ctx.rect(11, 1017, 14, 5);
	ctx.rect(18, 1017, 7, 15);
	ctx.fill();
	ctx.beginPath();
	ctx.arc(29, 1020, 2.6, 0, Math.PI * 2);
	ctx.fill();
	ctx.beginPath();
	ctx.moveTo(36, 1017);
	ctx.lineTo(42, 1017);
	ctx.lineTo(35, 1032);
	ctx.lineTo(29, 1032);
	ctx.closePath();
	ctx.fill();
	ctx.beginPath();
	ctx.moveTo(46, 1017);
	ctx.lineTo(80, 1017);
	ctx.lineTo(74, 1032);
	ctx.lineTo(40, 1032);
	ctx.closePath();
	ctx.fill();
	ctx.fillStyle = '#fff';
	ctx.font = 'bold 9px ' + FONT;
	ctx.textAlign = 'center';
	ctx.textBaseline = 'middle';
	ctx.fillText('PRO', 60, 1025);
}

function drawPepperstone(ctx) {
	ctx.fillStyle = '#0d0d0d';
	ctx.beginPath();
	ctx.moveTo(1547, 982);
	ctx.bezierCurveTo(1570, 982, 1600, 992, 1606, 1005);
	ctx.bezierCurveTo(1612, 1018, 1595, 1036, 1572, 1043);
	ctx.bezierCurveTo(1563, 1044, 1556, 1036, 1552, 1026);
	ctx.bezierCurveTo(1546, 1012, 1541, 1000, 1541, 990);
	ctx.bezierCurveTo(1541, 985, 1543, 982, 1547, 982);
	ctx.closePath();
	ctx.fill();
	ctx.fillStyle = '#fff';
	ctx.beginPath();
	ctx.moveTo(1553, 993);
	ctx.lineTo(1583, 993);
	ctx.bezierCurveTo(1596, 993, 1596, 1016, 1583, 1017);
	ctx.lineTo(1571, 1017);
	ctx.lineTo(1571, 1033);
	ctx.lineTo(1562, 1033);
	ctx.lineTo(1562, 1001);
	ctx.lineTo(1556, 1001);
	ctx.closePath();
	ctx.moveTo(1571, 1001);
	ctx.lineTo(1571, 1009);
	ctx.lineTo(1580, 1009);
	ctx.bezierCurveTo(1585, 1009, 1585, 1001, 1580, 1001);
	ctx.closePath();
	ctx.fill('evenodd');
	ctx.fillStyle = '#0d0d0d';
	ctx.font = 'bold 41.5px Lato, ' + FONT;
	ctx.textAlign = 'left';
	ctx.textBaseline = 'alphabetic';
	ctx.fillText('pepperstone', 1620, 1023);
}

function eventTag(ctx, cx, color, up) {
	var d = up ? -1 : 1;
	ctx.strokeStyle = color;
	ctx.fillStyle = '#fff';
	ctx.lineWidth = 1.5;
	ctx.beginPath();
	ctx.moveTo(cx - 8.5, 1033 - d * 9);
	ctx.lineTo(cx + 8.5, 1033 - d * 9);
	ctx.lineTo(cx + 8.5, 1033 + d * 5);
	ctx.lineTo(cx, 1033 + d * 10);
	ctx.lineTo(cx - 8.5, 1033 + d * 5);
	ctx.closePath();
	ctx.fill();
	ctx.stroke();
	ctx.fillStyle = color;
	ctx.font = '11px ' + FONT;
	ctx.textAlign = 'center';
	ctx.textBaseline = 'middle';
	ctx.fillText('E', cx, 1033 - d * 1);
}

function drawEvents(ctx) {
	eventTag(ctx, 115, '#f23645', false);
	eventTag(ctx, 870, '#089981', true);
	ctx.strokeStyle = '#2962ff';
	ctx.lineWidth = 1.5;
	ctx.beginPath();
	ctx.arc(1114, 1033, 9.5, 0, Math.PI * 2);
	ctx.stroke();
	ctx.fillStyle = '#2962ff';
	ctx.font = '11px ' + FONT;
	ctx.textAlign = 'center';
	ctx.textBaseline = 'middle';
	ctx.fillText('D', 1114, 1033.5);
	ctx.strokeStyle = '#9c27b0';
	ctx.beginPath();
	ctx.arc(1335, 1033, 10, 0, Math.PI * 2);
	ctx.stroke();
	ctx.lineWidth = 1.3;
	ctx.beginPath();
	ctx.moveTo(1337, 1027);
	ctx.lineTo(1332, 1034);
	ctx.lineTo(1338, 1033);
	ctx.lineTo(1333, 1039);
	ctx.stroke();
	ctx.fillStyle = '#f23645';
	ctx.beginPath();
	ctx.arc(1342, 1026, 3, 0, Math.PI * 2);
	ctx.fill();
	// settings
	ctx.strokeStyle = '#131722';
	ctx.lineWidth = 1;
	ctx.beginPath();
	ctx.moveTo(1881, 1060);
	ctx.lineTo(1884.5, 1053.5);
	ctx.lineTo(1891.5, 1053.5);
	ctx.lineTo(1895, 1060);
	ctx.lineTo(1891.5, 1066.5);
	ctx.lineTo(1884.5, 1066.5);
	ctx.closePath();
	ctx.moveTo(1891, 1060);
	ctx.arc(1888, 1060, 3, 0, Math.PI * 2);
	ctx.stroke();
}

var overlay = {
	id: 'overlay',
	afterDraw: function(chart) {
		var ctx = chart.ctx;
		var x = chart.scales.x;
		var y = chart.scales.y;
		ctx.save();
		drawMeasureBox(ctx, x, y);
		drawTags(ctx, y);
		drawTimeLabel(ctx, x);
		drawEur(ctx);
		drawTvLogo(ctx);
		drawPepperstone(ctx);
		drawEvents(ctx);
		ctx.strokeStyle = '#363636';
		ctx.lineWidth = 1.5;
		ctx.beginPath();
		ctx.roundRect(0.5, 0.5, 1913, 1072, [0, 0, 4, 4]);
		ctx.stroke();
		ctx.restore();
	}
};

var ctx = document.getElementById('mycanvas');
var chart = new Chart(ctx, {
	type: 'line',
	data: {datasets: datasets},
	plugins: [overlay],
	options: {
		responsive: false,
		devicePixelRatio: 1,
		animation: false,
		layout: {padding: 0, autoPadding: false},
		plugins: {legend: {display: false}, tooltip: {enabled: false}},
		scales: {
			x: {
				type: 'linear',
				min: -6.18,
				max: 845.6,
				grid: {display: false, drawTicks: false},
				border: {display: false},
				afterFit: function(s) { s.height = 27; s.paddingLeft = 0; s.paddingRight = 0; },
				afterBuildTicks: function(s) {
					s.ticks = tickBars.map(function(v) { return {value: v}; });
				},
				ticks: {
					autoSkip: false,
					maxRotation: 0,
					padding: 7,
					color: '#363a45',
					font: {family: FONT, size: 12},
					callback: function(v) {
						var i = tickBars.indexOf(v);
						return i < 0 ? '' : tickNames[i];
					}
				}
			},
			y: {
				type: 'linear',
				position: 'right',
				min: 166.51,
				max: 251.48,
				grid: {display: false, drawTicks: false},
				border: {display: false},
				afterFit: function(s) { s.width = 52; s.paddingTop = 0; s.paddingBottom = 0; },
				afterBuildTicks: function(s) {
					s.ticks = yTicks.map(function(v) { return {value: v}; });
				},
				ticks: {
					autoSkip: false,
					padding: 3,
					labelOffset: 1.5,
					crossAlign: 'center',
					color: '#363a45',
					font: {family: FONT, size: 12},
					callback: fmtPrice
				}
			}
		}
	}
});
</script>
</body>
</html>
